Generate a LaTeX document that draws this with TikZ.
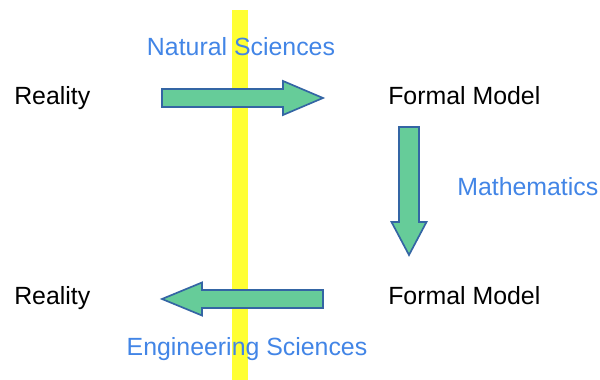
\documentclass[tikz,border=0pt]{standalone}
\usepackage{fontspec}
\setmainfont{Liberation Sans}
\usepackage{tikz}
\definecolor{baryellow}{RGB}{255,255,51}
\definecolor{arrowgreen}{RGB}{102,204,153}
\definecolor{arrowblue}{RGB}{52,101,164}
\definecolor{textblue}{RGB}{66,133,230}
\newcommand{\labelsize}{\fontsize{17.7}{21}\selectfont}

\begin{document}
\begin{tikzpicture}[
    blockarrow/.style={fill=arrowgreen, draw=arrowblue, line width=1.2pt, line join=miter},
    word/.style={anchor=base west, inner sep=0pt, font=\labelsize},
    science/.style={anchor=base, inner sep=0pt, text=textblue, font=\labelsize}]
      \useasboundingbox (0,0) rectangle (15,9.5);
      % yellow bar
        \fill[baryellow] (5.79,0) rectangle (6.2,9.25);

      % arrows
        \coordinate (ntail) at (4.05,7.05);
        \coordinate (mtail) at (10.225,6.325);
        \coordinate (etail) at (8.075,2.025);
        \draw[blockarrow] (ntail) ++(0,0.225) -- ++(3.025,0) -- ++(0,0.2) -- ++(1,-0.425)
              -- ++(-1,-0.425) -- ++(0,0.2) -- ++(-3.025,0) -- cycle;
        \draw[blockarrow] (mtail) ++(-0.25,0) -- ++(0,-2.375) -- ++(-0.1875,0) -- ++(0.4375,-0.825)
              -- ++(0.4375,0.825) -- ++(-0.1875,0) -- ++(0,2.375) -- cycle;
        \draw[blockarrow] (etail) ++(0,0.225) -- ++(-3.025,0) -- ++(0,0.1875) -- ++(-1,-0.4125)
              -- ++(1,-0.4125) -- ++(0,0.1875) -- ++(3.025,0) -- cycle;

      % texts
        \node (reality1) at (0.35,6.875) [word] {Reality};
        \node (model1) at (9.7,6.875) [word] {Formal Model};
        \node (reality2) at (0.35,1.875) [word] {Reality};
        \node (model2) at (9.7,1.875) [word] {Formal Model};
        \node (natural) at (6.025,8.12) [science] {Natural Sciences};
        \node (maths) at (11.425,4.62) [science, anchor=base west] {Mathematics};
        \node (engineering) at (6.175,0.61) [science] {Engineering Sciences};
    \end{tikzpicture}
\end{document}
